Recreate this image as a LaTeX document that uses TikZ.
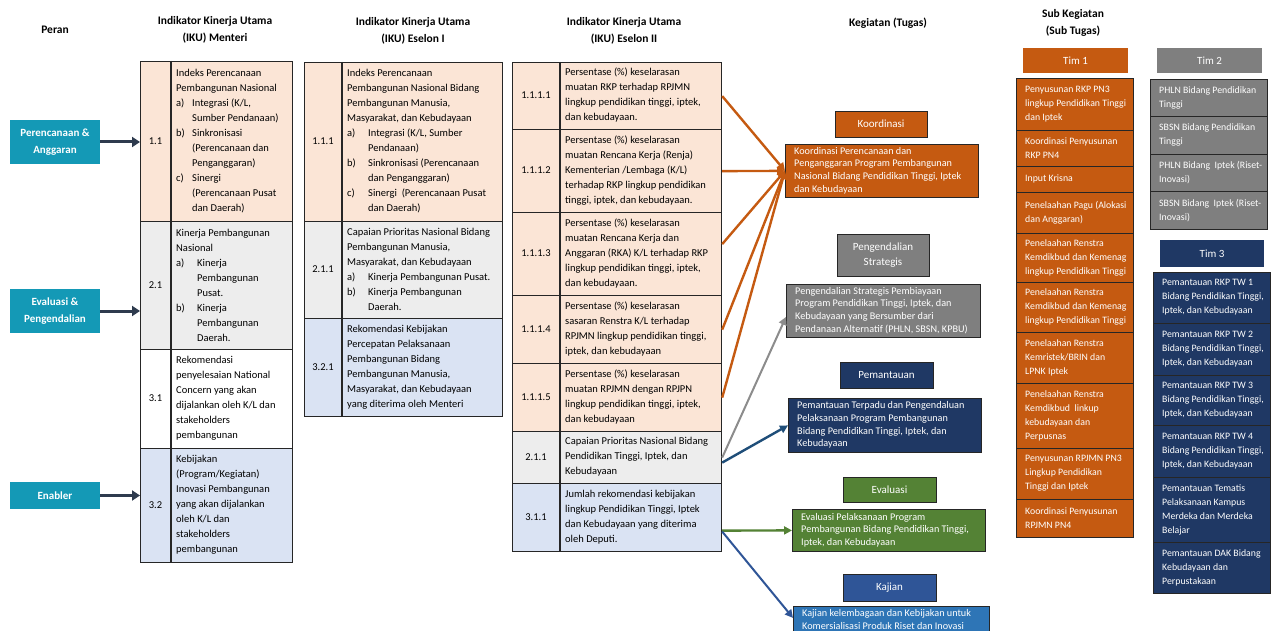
\documentclass[tikz,border=0pt]{standalone}
\usepackage{fontspec}
\setmainfont{Carlito}
\usetikzlibrary{arrows.meta,positioning}
\definecolor{oranye}{HTML}{C55A11}
\definecolor{abu}{HTML}{7F7F7F}
\definecolor{navy}{HTML}{1F3864}
\definecolor{hijau}{HTML}{548235}
\definecolor{biru}{HTML}{2F5597}
\definecolor{birumuda}{HTML}{2E75B6}
\definecolor{tosca}{HTML}{1499B6}
\definecolor{peach}{HTML}{FBE5D6}
\definecolor{abumuda}{HTML}{EDEDED}
\definecolor{birupucat}{HTML}{DAE3F3}
\definecolor{garisgelap}{HTML}{262626}
\definecolor{panahgelap}{HTML}{2E3B4E}
\definecolor{panahbiru}{HTML}{1F4E79}
\definecolor{panahabu}{HTML}{8C8C8C}
\newcommand\itemlbl[2][16pt]{\makebox[#1][l]{#2}}
\newcommand\itemgap[1][16pt]{\hspace*{#1}}
% name, x kiri, x pembatas, x kanan, y atas, y bawah, warna, nomor, isi
\newcommand\ikurow[9]{%
    \node[baris, fill=#7, minimum width=#4-#2, minimum height=#6-#5, anchor=north west] (#1) at (#2,#5) {};
    \draw[garis] (#3,#5) -- (#3,#6);
    \node[nomor] (#1-no) at ({(#2+#3)/2},{(#5+#6)/2}) {#8};
    \node[isi, anchor=west] (#1-tx) at (#3+5,{(#5+#6)/2}) {#9};}
% name, x, y atas, y bawah, gaya tim, isi
\newcommand\timrow[6]{%
    \node[timbaris, #5, minimum height=#4-#3] (#1) at (#2,#3) {};
    \node[timisi, anchor=west] (#1-tx) at (#2+9,{(#3+#4)/2}) {#6};}
% name, x, y atas, lebar, tinggi, warna, isi
\newcommand\tugasbox[7]{%
    \node[tugas, fill=#6, minimum width=#4, minimum height=#5] (#1) at (#2,#3) {};
    \node[tugasisi, anchor=west] (#1-tx) at (#2+9,{#3+#5/2}) {#7};}

\begin{document}
\begin{tikzpicture}[x=1pt, y=-1pt,
    kepala/.style={font=\fontsize{11.5}{17}\selectfont\bfseries, align=center, inner sep=0pt},
    peran/.style={fill=tosca, text=white, font=\fontsize{11}{17}\selectfont\bfseries, align=center,
        minimum width=90, minimum height=44, inner sep=0pt},
    peranpanah/.style={draw=panahgelap, line width=3pt, -{Triangle[length=8pt,width=10pt]}},
    baris/.style={draw=garisgelap, line width=1.2pt, inner sep=0pt},
    garis/.style={draw=garisgelap, line width=1.2pt},
    nomor/.style={font=\fontsize{10.5}{15}\selectfont, inner sep=0pt},
    isi/.style={font=\fontsize{10.5}{15}\selectfont, align=left, inner sep=0pt},
    tugashead/.style={draw=garisgelap, line width=0.8pt, text=white, align=center,
        font=\fontsize{11}{15.5}\selectfont, minimum width=92, inner sep=0pt},
    tugas/.style={draw=garisgelap, line width=0.8pt, anchor=north west, inner sep=0pt},
    tugasisi/.style={text=white, align=left, font=\fontsize{10.2}{12.7}\selectfont, inner sep=0pt},
    panah/.style={line width=2.4pt, -{Triangle[length=8pt,width=8pt]}},
    timhead/.style={text=white, font=\fontsize{11}{13}\selectfont, minimum width=105, minimum height=25, inner sep=0pt},
    timbaris/.style={draw=garisgelap, line width=0.8pt, anchor=north west, minimum width=117, inner sep=0pt},
    timisi/.style={text=white, align=left, font=\fontsize{9.8}{14}\selectfont, inner sep=0pt},
    tim1/.style={fill=oranye},
    tim2/.style={fill=abu},
    tim3/.style={fill=navy}]

    \useasboundingbox (0,0) rectangle (1271,631);
    \fill[white] (0,0) rectangle (1271,631);

    % Judul kolom
    \node[kepala] (hPeran) at (55,30) {Peran};
    \node[kepala] (hMenteri) at (215,30) {Indikator Kinerja Utama\\(IKU) Menteri};
    \node[kepala] (hEselon1) at (413,31) {Indikator Kinerja Utama\\(IKU) Eselon I};
    \node[kepala] (hEselon2) at (624,31) {Indikator Kinerja Utama\\(IKU) Eselon II};
    \node[kepala] (hKegiatan) at (888,23) {Kegiatan (Tugas)};
    \node[kepala] (hSub) at (1073,23) {Sub Kegiatan\\(Sub Tugas)};

    % IKU Menteri
    \ikurow{m11}{140}{171}{292}{61}{221}{peach}{1.1}{Indeks Perencanaan\\Pembangunan Nasional\\
        \itemlbl{a)}Integrasi (K/L,\\\itemgap Sumber Pendanaan)\\
        \itemlbl{b)}Sinkronisasi\\\itemgap(Perencanaan dan\\\itemgap Penganggaran)\\
        \itemlbl{c)}Sinergi\\\itemgap(Perencanaan Pusat\\\itemgap dan Daerah)}
    \ikurow{m21}{140}{171}{292}{221}{349}{abumuda}{2.1}{Kinerja Pembangunan\\Nasional\\
        \itemlbl[21pt]{a)}Kinerja\\\itemgap[21pt]Pembangunan\\\itemgap[21pt]Pusat.\\
        \itemlbl[21pt]{b)}Kinerja\\\itemgap[21pt]Pembangunan\\\itemgap[21pt]Daerah.}
    \ikurow{m31}{140}{171}{292}{349}{448}{white}{3.1}{Rekomendasi\\penyelesaian National\\Concern yang akan\\
        dijalankan oleh K/L dan\\stakeholders\\pembangunan}
    \ikurow{m32}{140}{171}{292}{448}{562}{birupucat}{3.2}{Kebijakan\\(Program/Kegiatan)\\Inovasi Pembangunan\\
        yang akan dijalankan\\oleh K/L dan\\stakeholders\\pembangunan}

    % Peran
    \node[peran] (peran1) at (55,142) {Perencanaan \&\\Anggaran};
    \node[peran] (peran2) at (55,311) {Evaluasi \&\\Pengendalian};
    \node[peran, minimum height=27] (peran3) at (55,495.5) {Enabler};
    \draw[peranpanah] (peran1.east) -- (peran1.east -| m11.west);
    \draw[peranpanah] (peran2.east) -- (peran2.east -| m21.west);
    \draw[peranpanah] (peran3.east) -- (peran3.east -| m32.west);

    % IKU Eselon I
    \ikurow{e111}{304}{342}{502}{62}{221}{peach}{1.1.1}{Indeks Perencanaan\\Pembangunan Nasional Bidang\\
        Pembangunan Manusia,\\Masyarakat, dan Kebudayaan\\
        \itemlbl[21pt]{a)}Integrasi (K/L, Sumber\\\itemgap[21pt]Pendanaan)\\
        \itemlbl[21pt]{b)}Sinkronisasi (Perencanaan\\\itemgap[21pt]dan Penganggaran)\\
        \itemlbl[21pt]{c)}Sinergi\ \ (Perencanaan Pusat\\\itemgap[21pt]dan Daerah)}
    \ikurow{e211}{304}{342}{502}{221}{318}{abumuda}{2.1.1}{Capaian Prioritas Nasional Bidang\\
        Pembangunan Manusia,\\Masyarakat, dan Kebudayaan\\
        \itemlbl[21pt]{a)}Kinerja Pembangunan Pusat.\\
        \itemlbl[21pt]{b)}Kinerja Pembangunan\\\itemgap[21pt]Daerah.}
    \ikurow{e321}{304}{342}{502}{318}{416}{birupucat}{3.2.1}{Rekomendasi Kebijakan\\Percepatan Pelaksanaan\\
        Pembangunan Bidang\\Pembangunan Manusia,\\Masyarakat, dan Kebudayaan\\yang diterima oleh Menteri}

    % IKU Eselon II
    \ikurow{r1111}{512}{560}{721}{62}{129}{peach}{1.1.1.1}{Persentase (\%) keselarasan\\
        muatan RKP terhadap RPJMN\\lingkup pendidikan tinggi, iptek,\\dan kebudayaan.}
    \ikurow{r1112}{512}{560}{721}{129}{212}{peach}{1.1.1.2}{Persentase (\%) keselarasan\\
        muatan Rencana Kerja (Renja)\\Kementerian /Lembaga (K/L)\\terhadap RKP lingkup pendidikan\\
        tinggi, iptek, dan kebudayaan.}
    \ikurow{r1113}{512}{560}{721}{212}{295}{peach}{1.1.1.3}{Persentase (\%) keselarasan\\
        muatan Rencana Kerja dan\\Anggaran (RKA) K/L terhadap RKP\\lingkup pendidikan tinggi, iptek,\\
        dan kebudayaan.}
    \ikurow{r1114}{512}{560}{721}{295}{363}{peach}{1.1.1.4}{Persentase (\%) keselarasan\\
        sasaran Renstra K/L terhadap\\RPJMN lingkup pendidikan tinggi,\\iptek, dan kebudayaan}
    \ikurow{r1115}{512}{560}{721}{363}{431}{peach}{1.1.1.5}{Persentase (\%) keselarasan\\
        muatan RPJMN dengan RPJPN\\lingkup pendidikan tinggi, iptek,\\dan kebudayaan}
    \ikurow{r211}{512}{560}{721}{431}{483}{abumuda}{2.1.1}{Capaian Prioritas Nasional Bidang\\
        Pendidikan Tinggi, Iptek, dan\\Kebudayaan}
    \ikurow{r311}{512}{560}{721}{483}{551}{birupucat}{3.1.1}{Jumlah rekomendasi kebijakan\\
        lingkup Pendidikan Tinggi, Iptek\\dan Kebudayaan yang diterima\\oleh Deputi.}

    % Kegiatan
    \node[tugashead, fill=oranye, minimum height=26] (koordH) at (881,124) {Koordinasi};
    \tugasbox{koord}{785}{144}{193}{53}{oranye}{Koordinasi Perencanaan dan\\
        Penganggaran Program Pembangunan\\Nasional Bidang Pendidikan Tinggi, Iptek\\dan Kebudayaan}
    \node[tugashead, fill=abu, minimum height=42] (kendaliH) at (883,255) {Pengendalian\\Strategis};
    \tugasbox{kendali}{786}{284}{194}{53}{abu}{Pengendalian Strategis Pembiayaan\\
        Program Pendidikan Tinggi, Iptek, dan\\Kebudayaan yang Bersumber dari\\
        Pendanaan Alternatif (PHLN, SBSN, KPBU)}
    \node[tugashead, fill=navy, minimum height=26, minimum width=93] (pantauH) at (886.5,375) {Pemantauan};
    \tugasbox{pantau}{788}{398}{193}{54}{navy}{Pemantauan Terpadu dan Pengendaluan\\
        Pelaksanaan Program Pembangunan\\Bidang Pendidikan Tinggi, Iptek, dan\\Kebudayaan}
    \node[tugashead, fill=hijau, minimum height=25, minimum width=93] (evalH) at (889.5,489.5) {Evaluasi};
    \tugasbox{eval}{792}{509}{193}{42}{hijau}{Evaluasi Pelaksanaan Program\\
        Pembangunan Bidang Pendidikan Tinggi,\\Iptek, dan Kebudayaan}
    \node[tugashead, fill=biru, minimum height=27, minimum width=93] (kajiH) at (889.5,587.5) {Kajian};
    \tugasbox{kaji}{793}{606}{196}{27}{birumuda}{Kajian kelembagaan dan Kebijakan untuk\\
        Komersialisasi Produk Riset dan Inovasi}

    % Panah IKU ke kegiatan
    \draw[panah, oranye] (r1111.east) -- (koord.west);
    \draw[panah, oranye] (r1112.east) -- (koord.west);
    \draw[panah, oranye] ([yshift=10pt]r1113.east) -- (koord.west);
    \draw[panah, oranye] (r1114.east) -- (koord.west);
    \draw[panah, oranye] (r1115.east) -- (koord.west);
    \draw[panah, panahabu, line width=2pt] (r211.east) -- ([yshift=-6pt]kendali.west);
    \draw[panah, panahbiru] ([yshift=-5pt]r211.east) -- (pantau.west);
    \draw[panah, hijau] ([yshift=-13pt]r311.east) -- (eval.west);
    \draw[panah, biru, line width=2pt] ([yshift=-14pt]r311.east) -- ([yshift=2pt]kaji.west);

    % Tim 1
    \node[timhead, fill=oranye] (tim1H) at (1075.5,60.5) {Tim 1};
    \timrow{t1a}{1016}{78}{130}{tim1}{Penyusunan RKP PN3\\lingkup Pendidikan Tinggi\\dan Iptek}
    \timrow{t1b}{1016}{130}{166}{tim1}{Koordinasi Penyusunan\\RKP PN4}
    \timrow{t1c}{1016}{166}{192}{tim1}{Input Krisna}
    \timrow{t1d}{1016}{192}{233}{tim1}{Penelaahan Pagu (Alokasi\\dan Anggaran)}
    \timrow{t1e}{1016}{233}{282}{tim1}{Penelaahan Renstra\\Kemdikbud dan Kemenag\\lingkup Pendidikan Tinggi}
    \timrow{t1f}{1016}{282}{332}{tim1}{Penelaahan Renstra\\Kemdikbud dan Kemenag\\lingkup Pendidikan Tinggi}
    \timrow{t1g}{1016}{332}{383}{tim1}{Penelaahan Renstra\\Kemristek/BRIN dan\\LPNK Iptek}
    \timrow{t1h}{1016}{383}{448}{tim1}{Penelaahan Renstra\\Kemdikbud\ \ linkup\\kebudayaan dan\\Perpusnas}
    \timrow{t1i}{1016}{448}{499}{tim1}{Penyusunan RPJMN PN3\\Lingkup Pendidikan\\Tinggi dan Iptek}
    \timrow{t1j}{1016}{499}{537}{tim1}{Koordinasi Penyusunan\\RPJMN PN4}

    % Tim 2
    \node[timhead, fill=abu] (tim2H) at (1209.5,60.5) {Tim 2};
    \timrow{t2a}{1150}{79}{116.5}{tim2}{PHLN Bidang Pendidikan\\Tinggi}
    \timrow{t2b}{1150}{116.5}{154}{tim2}{SBSN Bidang Pendidikan\\Tinggi}
    \timrow{t2c}{1150}{154}{191.5}{tim2}{PHLN Bidang\ \ Iptek (Riset-\\Inovasi)}
    \timrow{t2d}{1150}{191.5}{229}{tim2}{SBSN Bidang\ \ Iptek (Riset-\\Inovasi)}

    % Tim 3
    \node[timhead, fill=navy, minimum width=104, minimum height=27] (tim3H) at (1212,253.5) {Tim 3};
    \timrow{t3a}{1153}{272}{323}{tim3}{Pemantauan RKP TW 1\\Bidang Pendidikan Tinggi,\\Iptek, dan Kebudayaan}
    \timrow{t3b}{1153}{323}{375}{tim3}{Pemantauan RKP TW 2\\Bidang Pendidikan Tinggi,\\Iptek, dan Kebudayaan}
    \timrow{t3c}{1153}{375}{425}{tim3}{Pemantauan RKP TW 3\\Bidang Pendidikan Tinggi,\\Iptek, dan Kebudayaan}
    \timrow{t3d}{1153}{425}{477}{tim3}{Pemantauan RKP TW 4\\Bidang Pendidikan Tinggi,\\Iptek, dan Kebudayaan}
    \timrow{t3e}{1153}{477}{542}{tim3}{Pemantauan Tematis\\Pelaksanaan Kampus\\Merdeka dan Merdeka\\Belajar}
    \timrow{t3f}{1153}{542}{593}{tim3}{Pemantauan DAK Bidang\\Kebudayaan dan\\Perpustakaan}
\end{tikzpicture}
\end{document}
